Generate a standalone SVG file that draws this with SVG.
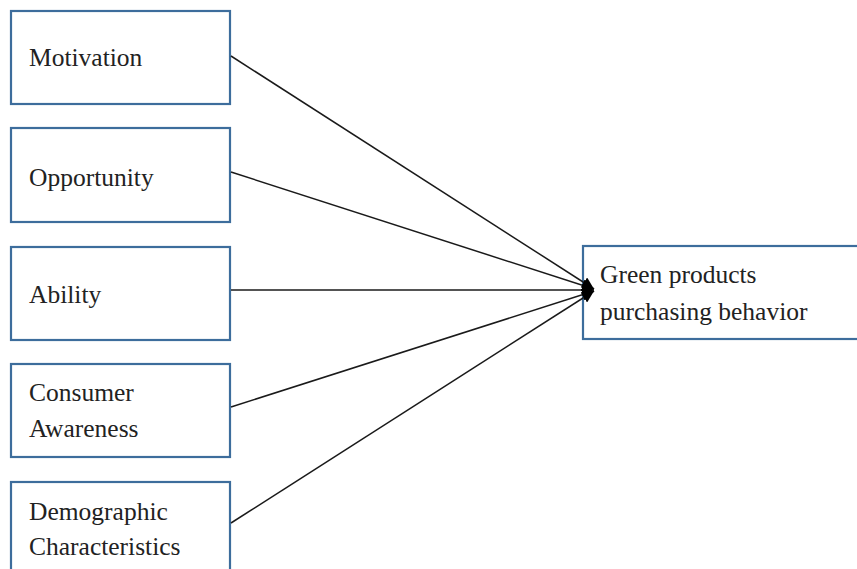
<svg xmlns="http://www.w3.org/2000/svg" width="857" height="569" viewBox="0 0 857 569">
<style>
.box{fill:#fff;stroke:#3d6d9c;stroke-width:2.2}
.t{font-family:"Liberation Serif","Times New Roman",serif;font-size:25.5px;fill:#222}
.c{stroke:#1a1a1a;stroke-width:1.5;fill:none;marker-end:url(#ah)}
</style>
<defs>
<marker id="ah" viewBox="0 0 10 10" refX="10" refY="5" markerWidth="12" markerHeight="12" markerUnits="userSpaceOnUse" orient="auto">
<path d="M0,0 L10,5 L0,10 z" fill="#000"/>
</marker>
</defs>
<rect width="857" height="569" fill="#fff"/>
<g id="motivation">
<rect class="box" x="11" y="11" width="219" height="93"/>
<text class="t" x="29" y="66">Motivation</text>
</g>
<g id="opportunity">
<rect class="box" x="11" y="128" width="219" height="94"/>
<text class="t" x="29" y="186">Opportunity</text>
</g>
<g id="ability">
<rect class="box" x="11" y="247" width="219" height="93"/>
<text class="t" x="29" y="303">Ability</text>
</g>
<g id="consumer-awareness">
<rect class="box" x="11" y="364" width="219" height="93"/>
<text class="t" x="29" y="401">Consumer</text>
<text class="t" x="29" y="437">Awareness</text>
</g>
<g id="demographic">
<rect class="box" x="11" y="482" width="219" height="100"/>
<text class="t" x="29" y="520">Demographic</text>
<text class="t" x="29" y="555">Characteristics</text>
</g>
<g id="green-products">
<rect class="box" x="583" y="246" width="285" height="93"/>
<text class="t" x="600" y="283">Green products</text>
<text class="t" x="600" y="320">purchasing behavior</text>
</g>
<g id="connectors">
<line class="c" x1="231" y1="56" x2="594" y2="289"/>
<line class="c" x1="231" y1="172" x2="594" y2="289"/>
<line class="c" x1="231" y1="290" x2="594" y2="290"/>
<line class="c" x1="231" y1="407" x2="594" y2="291"/>
<line class="c" x1="231" y1="523" x2="594" y2="291"/>
</g>
</svg>
